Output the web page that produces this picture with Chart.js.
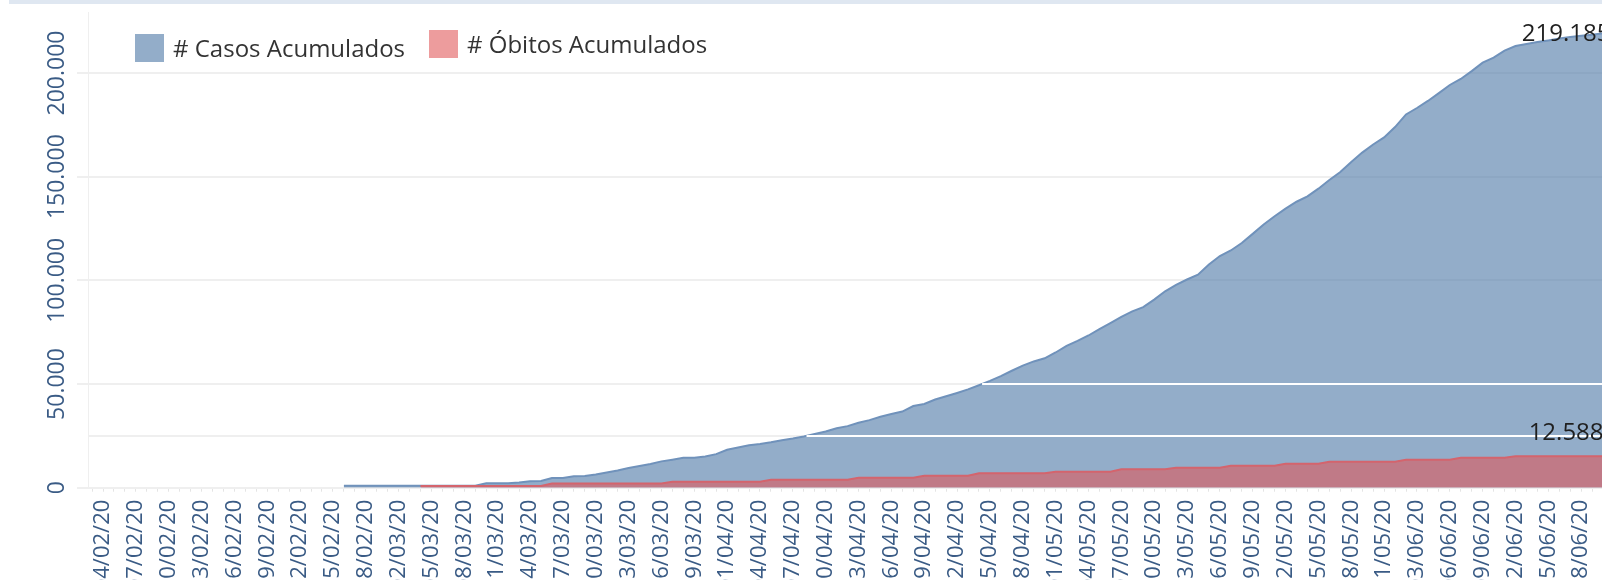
<!DOCTYPE html>
<html lang="pt-BR">
<head>
<meta charset="UTF-8" />
<title>Casos e Óbitos Acumulados</title>
<script src="https://cdn.jsdelivr.net/npm/chart.js@4.4.1/dist/chart.umd.min.js"></script>
<style>
  html, body { margin: 0; padding: 0; background: #fff; overflow: hidden; }
  #frame { position: relative; width: 1602px; height: 580px; overflow: hidden; }
  #chartCanvas { position: absolute; left: 0; top: 0; }
  #topBand { position: absolute; left: 9px; right: 0; top: 0; height: 4px; background: #dfe7f1; }
  .legend-swatch { position: absolute; width: 29px; height: 28px; }
  .legend-text { position: absolute; font-family: "Open Sans", sans-serif; font-size: 24px; line-height: 24px; color: #333; white-space: nowrap; }
</style>
</head>
<body>
<div id="frame">
  <canvas id="chartCanvas" width="1640" height="640"></canvas>
  <div id="topBand"></div>
  <div id="legend"></div>
</div>
<script>
// one entry per day, 04/02/20 .. 20/06/20
const dates = [
  "04/02/20", "05/02/20", "06/02/20", "07/02/20", "08/02/20", "09/02/20", "10/02/20", "11/02/20", "12/02/20", "13/02/20",
  "14/02/20", "15/02/20", "16/02/20", "17/02/20", "18/02/20", "19/02/20", "20/02/20", "21/02/20", "22/02/20", "23/02/20",
  "24/02/20", "25/02/20", "26/02/20", "27/02/20", "28/02/20", "29/02/20",
  "01/03/20", "02/03/20", "03/03/20", "04/03/20", "05/03/20", "06/03/20", "07/03/20", "08/03/20", "09/03/20", "10/03/20",
  "11/03/20", "12/03/20", "13/03/20", "14/03/20", "15/03/20", "16/03/20", "17/03/20", "18/03/20", "19/03/20", "20/03/20",
  "21/03/20", "22/03/20", "23/03/20", "24/03/20", "25/03/20", "26/03/20", "27/03/20", "28/03/20", "29/03/20", "30/03/20", "31/03/20",
  "01/04/20", "02/04/20", "03/04/20", "04/04/20", "05/04/20", "06/04/20", "07/04/20", "08/04/20", "09/04/20", "10/04/20",
  "11/04/20", "12/04/20", "13/04/20", "14/04/20", "15/04/20", "16/04/20", "17/04/20", "18/04/20", "19/04/20", "20/04/20",
  "21/04/20", "22/04/20", "23/04/20", "24/04/20", "25/04/20", "26/04/20", "27/04/20", "28/04/20", "29/04/20", "30/04/20",
  "01/05/20", "02/05/20", "03/05/20", "04/05/20", "05/05/20", "06/05/20", "07/05/20", "08/05/20", "09/05/20", "10/05/20",
  "11/05/20", "12/05/20", "13/05/20", "14/05/20", "15/05/20", "16/05/20", "17/05/20", "18/05/20", "19/05/20", "20/05/20",
  "21/05/20", "22/05/20", "23/05/20", "24/05/20", "25/05/20", "26/05/20", "27/05/20", "28/05/20", "29/05/20", "30/05/20", "31/05/20",
  "01/06/20", "02/06/20", "03/06/20", "04/06/20", "05/06/20", "06/06/20", "07/06/20", "08/06/20", "09/06/20", "10/06/20",
  "11/06/20", "12/06/20", "13/06/20", "14/06/20", "15/06/20", "16/06/20", "17/06/20", "18/06/20", "19/06/20", "20/06/20"
];

const seriesNames = ["# Casos Acumulados", "# Óbitos Acumulados"];

const casosAcumulados = [
  null, null, null, null, null, null, null, null, null, null,
  null, null, null, null, null, null, null, null, null, null,
  null, null, 900, 900, 900, 900, 900, 900, 900, 900,
  900, 900, 900, 900, 900, 2100, 2100, 2100, 2500, 3100,
  3200, 4700, 4700, 5500, 5700, 6400, 7300, 8300, 9500, 10500,
  11400, 12700, 13500, 14400, 14500, 15100, 16200, 18300, 19400, 20500,
  21100, 21900, 22900, 23700, 24700, 25900, 27100, 28700, 29700, 31300,
  32600, 34200, 35500, 36700, 39400, 40400, 42500, 44100, 45700, 47400,
  49400, 51500, 53800, 56400, 58900, 60900, 62400, 65200, 68400, 70800,
  73400, 76500, 79400, 82400, 85000, 87100, 90700, 94700, 97800, 100400,
  102700, 107600, 111700, 114400, 118000, 122400, 126900, 130900, 134600, 137900,
  140500, 144200, 148400, 152200, 157100, 161600, 165500, 168900, 173900, 180000,
  183100, 186500, 190300, 194200, 197100, 200900, 205000, 207400, 210800, 213000,
  214000, 214900, 215700, 216600, 217400, 217900, 218400, 219185
];

const obitosAcumulados = [
  null, null, null, null, null, null, null, null, null, null,
  null, null, null, null, null, null, null, null, null, null,
  null, null, null, null, null, null, null, null, null, 680,
  680, 680, 680, 680, 680, 680, 680, 680, 680, 680,
  680, 1680, 1680, 1680, 1680, 1680, 1680, 1680, 1680, 1680,
  1680, 1680, 2400, 2400, 2400, 2400, 2400, 2400, 2400, 2400,
  2400, 3200, 3200, 3200, 3200, 3200, 3200, 3200, 3200, 4000,
  4000, 4000, 4000, 4000, 4000, 4800, 4800, 4800, 4800, 4800,
  5750, 5750, 5750, 5750, 5750, 5750, 5750, 6390, 6390, 6390,
  6390, 6390, 6390, 7350, 7350, 7350, 7350, 7350, 7990, 7990,
  7990, 7990, 7990, 8790, 8790, 8790, 8790, 8790, 9590, 9590,
  9590, 9590, 10390, 10390, 10390, 10390, 10390, 10390, 10390, 11190,
  11190, 11190, 11190, 11190, 11990, 11990, 11990, 11990, 11990, 12588,
  12588, 12588, 12588, 12588, 12588, 12588, 12588, 12588
];

const yTickValues = [0, 50000, 100000, 150000, 200000];
const referenceValues = [25000, 50000];

const tickColor = "#3a5b85";
const gridColor = "#efefef";

function formatThousands(value) {
  return String(Math.round(value)).replace(/\B(?=(\d{3})+(?!\d))/g, ".");
}

function toPoints(values) {
  return values.map((v, i) => ({ x: i, y: v }));
}

// where the cases curve first reaches a value (fractional day index)
function crossingIndex(values, target) {
  for (let i = 1; i < values.length; i++) {
    const a = values[i - 1];
    const b = values[i];
    if (a == null || b == null) continue;
    if (a < target && b >= target) {
      return i - 1 + (target - a) / (b - a);
    }
  }
  return null;
}

const referenceLinesPlugin = {
  id: "referenceLines",
  beforeDatasetsDraw(chart) {
    const { ctx, chartArea, scales } = chart;
    ctx.save();
    ctx.strokeStyle = gridColor;
    ctx.lineWidth = 2;
    referenceValues.forEach((v) => {
      const y = Math.round(scales.y.getPixelForValue(v));
      ctx.beginPath();
      ctx.moveTo(chartArea.left, y);
      ctx.lineTo(chartArea.right, y);
      ctx.stroke();
    });
    ctx.restore();
  },
  afterDatasetsDraw(chart) {
    const { ctx, chartArea, scales } = chart;
    ctx.save();
    ctx.strokeStyle = "#ffffff";
    ctx.lineWidth = 2;
    referenceValues.forEach((v) => {
      const idx = crossingIndex(casosAcumulados, v);
      if (idx === null) return;
      const y = Math.round(scales.y.getPixelForValue(v));
      ctx.beginPath();
      ctx.moveTo(scales.x.getPixelForValue(idx), y);
      ctx.lineTo(chartArea.right, y);
      ctx.stroke();
    });
    ctx.restore();
  },
};

const endLabelsPlugin = {
  id: "endLabels",
  afterDatasetsDraw(chart) {
    const { ctx, chartArea, scales } = chart;
    ctx.save();
    ctx.font = '24px "Open Sans", sans-serif';
    ctx.fillStyle = "#1f1f1f";
    ctx.textAlign = "center";
    ctx.textBaseline = "alphabetic";
    chart.data.datasets.forEach((ds) => {
      const last = ds.data[ds.data.length - 1];
      const x = scales.x.getPixelForValue(last.x) - 37;
      const y = scales[ds.yAxisID].getPixelForValue(last.y);
      const baseline = Math.max(y - 16, chartArea.top + 29);
      ctx.fillText(formatThousands(last.y), x, baseline);
    });
    ctx.restore();
  },
};

Chart.defaults.font.family = '"Open Sans", sans-serif';

const chart = new Chart(document.getElementById("chartCanvas"), {
  type: "line",
  data: {
    datasets: [
      {
        label: seriesNames[1],
        data: toPoints(obitosAcumulados),
        yAxisID: "yObitos",
        order: 0,
        borderColor: "#d4646d",
        backgroundColor: "rgba(225, 87, 89, 0.59)",
        fill: "origin",
      },
      {
        label: seriesNames[0],
        data: toPoints(casosAcumulados),
        yAxisID: "y",
        order: 1,
        borderColor: "#7092bb",
        backgroundColor: "rgba(78, 121, 167, 0.61)",
        fill: "origin",
      },
    ],
  },
  options: {
    responsive: false,
    animation: false,
    devicePixelRatio: 1,
    layout: { padding: { top: 12, left: 0, right: 0, bottom: 0 } },
    elements: {
      point: { radius: 0 },
      line: { borderWidth: 2, tension: 0 },
    },
    plugins: {
      legend: { display: false },
      tooltip: { enabled: false },
    },
    scales: {
      x: {
        type: "linear",
        min: -1.37,
        max: 140.37,
        border: { display: false },
        grid: { drawOnChartArea: false, drawTicks: true, tickLength: 4, color: "#e4e4e4", lineWidth: 1 },
        ticks: {
          stepSize: 1,
          maxTicksLimit: 300,
          includeBounds: false,
          autoSkip: false,
          minRotation: 90,
          maxRotation: 90,
          padding: 8,
          color: tickColor,
          font: { size: 22 },
          callback(value) {
            if (!Number.isInteger(value) || value < 0 || value % 3 !== 0) {
              return "";
            }
            return dates[value] || "";
          },
        },
        afterFit(scale) {
          scale.height = 152.3;
          scale.paddingLeft = 0;
          scale.paddingRight = 0;
        },
      },
      y: {
        min: 0,
        max: 229400,
        border: { display: true, color: gridColor, width: 1 },
        grid: { color: gridColor, lineWidth: 2, tickLength: 11 },
        ticks: {
          autoSkip: false,
          minRotation: 90,
          maxRotation: 90,
          crossAlign: "center",
          padding: -23,
          color: tickColor,
          font: { size: 23 },
          callback(value) {
            return formatThousands(value);
          },
        },
        afterBuildTicks(scale) {
          scale.ticks = yTickValues.map((v) => ({ value: v }));
        },
        afterFit(scale) {
          scale.width = 88;
          scale.paddingTop = 0;
          scale.paddingBottom = 0;
        },
      },
      yObitos: {
        display: false,
        position: "left",
        min: 0,
        max: 190090,
      },
    },
  },
  plugins: [referenceLinesPlugin, endLabelsPlugin],
});

// legend drawn over the plot, top left
const legendEl = document.getElementById("legend");
const legendSpots = [
  { swatchLeft: 135, swatchTop: 34, textLeft: 173, textTop: 36 },
  { swatchLeft: 429, swatchTop: 30, textLeft: 467, textTop: 32 },
];
[chart.data.datasets[1], chart.data.datasets[0]].forEach((ds, i) => {
  const spot = legendSpots[i];
  const swatch = document.createElement("div");
  swatch.className = "legend-swatch";
  swatch.style.left = spot.swatchLeft + "px";
  swatch.style.top = spot.swatchTop + "px";
  swatch.style.background = ds.backgroundColor;
  const text = document.createElement("div");
  text.className = "legend-text";
  text.style.left = spot.textLeft + "px";
  text.style.top = spot.textTop + "px";
  text.textContent = ds.label;
  legendEl.appendChild(swatch);
  legendEl.appendChild(text);
});
</script>
</body>
</html>
